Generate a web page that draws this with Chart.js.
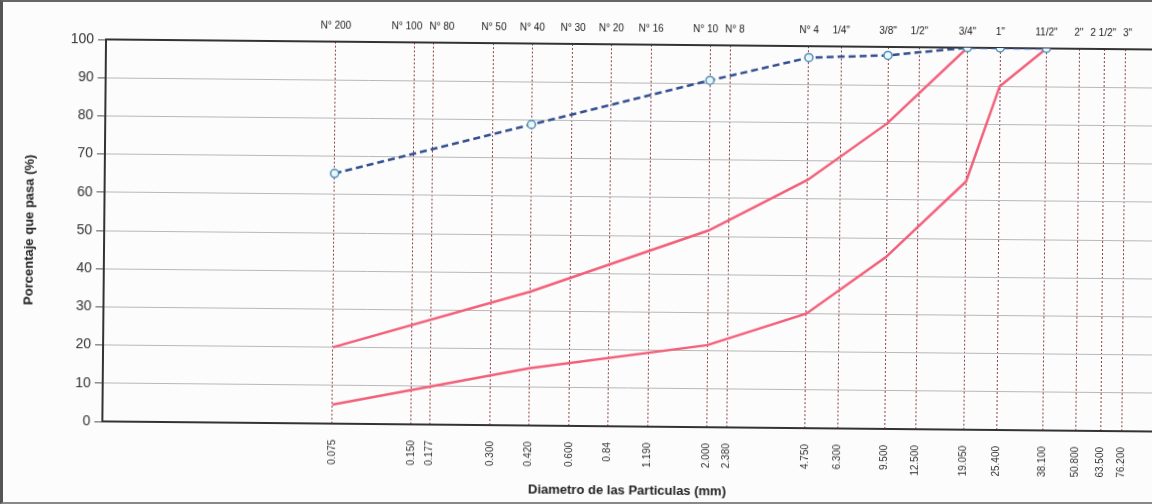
<!DOCTYPE html>
<html>
<head>
<meta charset="utf-8">
<script src="https://cdn.jsdelivr.net/npm/chart.js@4.4.1/dist/chart.umd.min.js"></script>
<style>
    html, body { margin: 0; padding: 0; background: #fcfcfc; }
    #wrap { position: relative; width: 1152px; height: 504px; overflow: hidden; }
    /* the scanned sheet is slightly tilted */
    #chartBox { position: absolute; left: 0; top: 0; width: 1160px; height: 504px;
        transform: rotate(0.55deg); transform-origin: 580px 252px; }
    #frame { position: absolute; left: 0; top: 0; width: 1152px; height: 504px; box-sizing: border-box;
        border-left: 3px solid #555; border-top: 2px solid #666; border-bottom: 2px solid #888; pointer-events: none; }
</style>
</head>
<body>
<div id="wrap">
    <div id="chartBox"><canvas id="granChart" width="1160" height="504"></canvas></div>
    <div id="frame"></div>
</div>
<script>
// Sieve sizes (mm) and their names
const sieveMm = [0.075, 0.150, 0.177, 0.300, 0.420, 0.600, 0.84, 1.190, 2.000, 2.380,
                 4.750, 6.300, 9.500, 12.500, 19.050, 25.400, 38.100, 50.800, 63.500, 76.200];
const sieveMmLabels = ['0.075', '0.150', '0.177', '0.300', '0.420', '0.600', '0.84', '1.190', '2.000', '2.380',
                       '4.750', '6.300', '9.500', '12.500', '19.050', '25.400', '38.100', '50.800', '63.500', '76.200'];
const sieveNames = ['N° 200', 'N° 100', 'N° 80', 'N° 50', 'N° 40', 'N° 30', 'N° 20', 'N° 16', 'N° 10', 'N° 8',
                    'N° 4', '1/4"', '3/8"', '1/2"', '3/4"', '1"', '11/2"', '2"', '2 1/2"', '3"'];

// Sample curve (blue dashed)
const sampleMm = [0.075, 0.42, 2.0, 4.75, 9.5, 19.05, 25.4, 38.1];
const samplePassing = [65.5, 78.8, 90.8, 97, 97.8, 100, 100, 100];

// Specification limits (red)
const upperMm = [0.075, 0.42, 2.0, 4.75, 9.5, 19.05];
const upperPassing = [20, 35, 51.5, 65, 80, 100];
const lowerMm = [0.075, 0.42, 2.0, 4.75, 9.5, 19.05, 25.4, 38.1];
const lowerPassing = [5, 15, 21.5, 30, 45, 65, 90, 100];

const yTicks = [0, 10, 20, 30, 40, 50, 60, 70, 80, 90, 100];

const FONT = '"Liberation Sans", Arial, sans-serif';

function toPoints(xs, ys) {
    return xs.map((x, i) => ({ x: x, y: ys[i] }));
}

// Sieve names above the chart, nudged apart where they would overlap
const topLabelsPlugin = {
    id: 'topLabels',
    afterDraw(chart) {
        const scale = chart.scales.xTop;
        const ctx = chart.ctx;
        ctx.save();
        ctx.font = '10px ' + FONT;
        const items = sieveMm.map((v, i) => ({
            x: scale.getPixelForValue(v),
            w: ctx.measureText(sieveNames[i]).width,
            text: sieveNames[i]
        }));
        for (let pass = 0; pass < 40; pass++) {
            for (let i = 0; i < items.length - 1; i++) {
                const a = items[i], b = items[i + 1];
                const overlap = (a.x + a.w / 2 + 7) - (b.x - b.w / 2);
                if (overlap > 0) {
                    a.x -= overlap / 2;
                    b.x += overlap / 2;
                }
            }
        }
        ctx.fillStyle = '#222';
        ctx.textAlign = 'center';
        ctx.textBaseline = 'middle';
        items.forEach(it => ctx.fillText(it.text, it.x, chart.chartArea.top - 16));
        ctx.restore();
    }
};

const ctx = document.getElementById('granChart').getContext('2d');
new Chart(ctx, {
    type: 'scatter',
    data: {
        datasets: [
            {
                label: 'Muestra',
                data: toPoints(sampleMm, samplePassing),
                showLine: true,
                borderColor: '#34508f',
                borderWidth: 2.5,
                borderDash: [7, 4],
                pointRadius: 4,
                pointBackgroundColor: '#eaf6fb',
                pointBorderColor: '#4f8fb5',
                pointBorderWidth: 1.5
            },
            {
                label: 'Limite superior',
                data: toPoints(upperMm, upperPassing),
                showLine: true,
                borderColor: '#f2607a',
                borderWidth: 2.5,
                pointRadius: 0
            },
            {
                label: 'Limite inferior',
                data: toPoints(lowerMm, lowerPassing),
                showLine: true,
                borderColor: '#f2607a',
                borderWidth: 2.5,
                pointRadius: 0
            }
        ]
    },
    options: {
        responsive: false,
        animation: false,
        layout: { padding: { left: 4, right: 3, top: 0, bottom: 4 } },
        plugins: {
            legend: { display: false },
            tooltip: { enabled: false }
        },
        scales: {
            x: {
                type: 'logarithmic',
                position: 'bottom',
                min: 0.01,
                max: 100,
                afterBuildTicks: s => { s.ticks = sieveMm.map(v => ({ value: v })); },
                afterFit: s => { s.height = 74; },
                ticks: {
                    autoSkip: false,
                    minRotation: 90,
                    maxRotation: 90,
                    padding: 16,
                    color: '#333',
                    font: { family: FONT, size: 10 },
                    callback: (v, i) => sieveMmLabels[i]
                },
                grid: { color: '#8c4040', lineWidth: 1, drawTicks: false },
                border: { color: '#333', width: 2, dash: [2, 2] },
                title: {
                    display: true,
                    text: 'Diametro de las Particulas (mm)',
                    color: '#222',
                    font: { family: FONT, size: 13, weight: 'bold' },
                    padding: { top: 0, bottom: 2 }
                }
            },
            xTop: {
                type: 'logarithmic',
                position: 'top',
                min: 0.01,
                max: 100,
                afterFit: s => { s.height = 44; },
                ticks: { display: false },
                grid: { display: false },
                border: { color: '#333', width: 2 }
            },
            y: {
                min: 0,
                max: 100,
                afterBuildTicks: s => { s.ticks = yTicks.map(v => ({ value: v })); },
                afterFit: s => { s.width = 100; },
                ticks: {
                    color: '#333',
                    padding: 4,
                    font: { family: FONT, size: 14 }
                },
                grid: { color: '#b8b8b8', lineWidth: 1, drawTicks: true, tickLength: 8, tickColor: '#555' },
                border: { color: '#333', width: 2 },
                title: {
                    display: true,
                    text: 'Porcentaje que pasa (%)',
                    color: '#222',
                    font: { family: FONT, size: 13, weight: 'bold' },
                    padding: { top: 18, bottom: 0 }
                }
            }
        }
    },
    plugins: [topLabelsPlugin]
});
</script>
</body>
</html>
